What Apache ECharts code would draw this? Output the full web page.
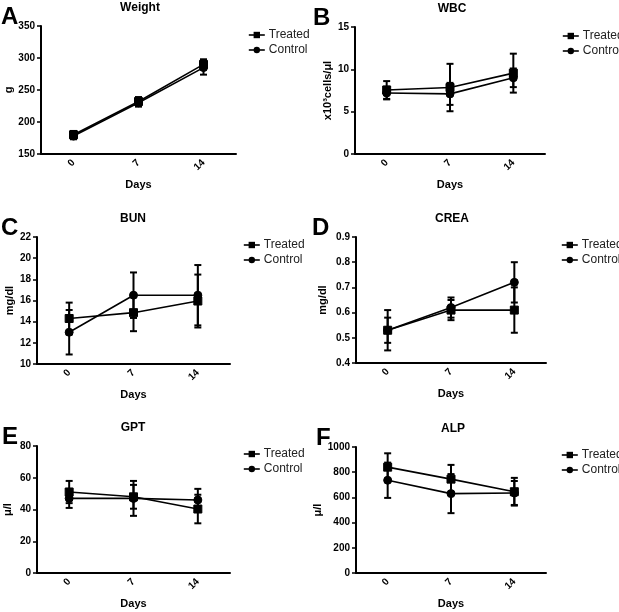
<!DOCTYPE html>
<html><head><meta charset="utf-8">
<script src="https://cdn.jsdelivr.net/npm/echarts@6/dist/echarts.min.js"></script>
<style>html,body{margin:0;padding:0;background:#fff}#c{width:619px;height:612px}</style>
</head><body><div id="c"></div>
<script>
const days = ['0', '7', '14'];

const weightTreated = [180, 232, 290];
const weightTreatedErr = [6, 7, 8];
const weightControl = [178, 230, 285];
const weightControlErr = [5, 6, 11];

const wbcTreated = [7.56, 7.85, 9.55];
const wbcTreatedErr = [1.05, 2.8, 2.3];
const wbcControl = [7.2, 7.1, 9.0];
const wbcControlErr = [0.75, 1.3, 1.1];

const bunTreated = [14.3, 14.85, 15.95];
const bunTreatedErr = [1.5, 1.75, 2.5];
const bunControl = [13.0, 16.5, 16.5];
const bunControlErr = [2.1, 2.15, 2.85];

const creaTreated = [0.53, 0.61, 0.61];
const creaTreatedErr = [0.08, 0.04, 0.09];
const creaControl = [0.53, 0.62, 0.72];
const creaControlErr = [0.05, 0.04, 0.08];

const gptTreated = [51, 48, 40.3];
const gptTreatedErr = [7, 7.5, 9];
const gptControl = [47, 47, 46];
const gptControlErr = [6, 11, 7];

const alpTreated = [840, 745, 645];
const alpTreatedErr = [110, 113, 110];
const alpControl = [736, 630, 635];
const alpControlErr = [140, 155, 95];

const panels = [
  {letter:'A', title:'Weight', yName:'g', min:150, max:350, interval:50,
   t:weightTreated, te:weightTreatedErr, c:weightControl, ce:weightControlErr,
   grid:{left:41, top:26, width:195, height:128}, yGap:26, titleX:140, letterX:1, legend:{left:248, top:29}},
  {letter:'B', title:'WBC', yName:'x10\u00B3cells/\u03BCl', min:0, max:15, interval:5,
   t:wbcTreated, te:wbcTreatedErr, c:wbcControl, ce:wbcControlErr,
   grid:{left:355, top:27, width:190, height:127}, yGap:22, titleX:452, letterX:313, legend:{left:562, top:30}},
  {letter:'C', title:'BUN', yName:'mg/dl', min:10, max:22, interval:2,
   t:bunTreated, te:bunTreatedErr, c:bunControl, ce:bunControlErr,
   grid:{left:37, top:237, width:193, height:127}, yGap:22, titleX:133, letterX:1, legend:{left:243, top:239}},
  {letter:'D', title:'CREA', yName:'mg/dl', min:0.4, max:0.9, interval:0.1,
   t:creaTreated, te:creaTreatedErr, c:creaControl, ce:creaControlErr,
   grid:{left:356, top:237, width:190, height:126}, yGap:28, titleX:452, letterX:312, legend:{left:561, top:239}},
  {letter:'E', title:'GPT', yName:'\u03BC/l', min:0, max:80, interval:20,
   t:gptTreated, te:gptTreatedErr, c:gptControl, ce:gptControlErr,
   grid:{left:37, top:446, width:193, height:127}, yGap:24, titleX:133, letterX:2, legend:{left:243, top:448}},
  {letter:'F', title:'ALP', yName:'\u03BC/l', min:0, max:1000, interval:200,
   t:alpTreated, te:alpTreatedErr, c:alpControl, ce:alpControlErr,
   grid:{left:356, top:447, width:190, height:126}, yGap:32, titleX:453, letterX:316, legend:{left:561, top:449}}
];

const FONT = '"Liberation Sans", Arial, sans-serif';
const BLACK = '#000';

function errData(m, e) { return m.map((v, i) => [i, v - e[i], v + e[i]]); }

function errRender(params, api) {
  const x = api.value(0);
  const lo = api.coord([x, api.value(1)]);
  const hi = api.coord([x, api.value(2)]);
  const hw = 3.5;
  const st = {stroke: BLACK, lineWidth: 2};
  return {type:'group', children:[
    {type:'line', shape:{x1:lo[0], y1:lo[1], x2:hi[0], y2:hi[1]}, style:st},
    {type:'line', shape:{x1:lo[0]-hw, y1:lo[1], x2:lo[0]+hw, y2:lo[1]}, style:st},
    {type:'line', shape:{x1:hi[0]-hw, y1:hi[1], x2:hi[0]+hw, y2:hi[1]}, style:st}
  ]};
}

const option = {
  animation:false,
  backgroundColor:'#fff',
  textStyle:{fontFamily:FONT},
  title:[], grid:[], xAxis:[], yAxis:[], series:[], legend:[], graphic:[]
};

panels.forEach((p, i) => {
  const g = p.grid;
  option.grid.push({left:g.left, top:g.top, width:g.width, height:g.height, containLabel:false});
  option.title.push({text:p.title, left:p.titleX, top:g.top - 24, textAlign:'center', padding:0,
    textStyle:{fontFamily:FONT, fontSize:12, fontWeight:'bold', color:BLACK}});
  option.graphic.push({type:'text', left:p.letterX, top:g.top - 21,
    style:{text:p.letter, font:'bold 24px ' + FONT, fill:BLACK}});
  option.xAxis.push({type:'category', gridIndex:i, data:days, boundaryGap:true,
    name:'Days', nameLocation:'middle', nameGap:25,
    nameTextStyle:{fontFamily:FONT, fontSize:11, fontWeight:'bold', color:BLACK},
    axisLine:{lineStyle:{color:BLACK, width:2}},
    axisTick:{alignWithLabel:true, length:4, lineStyle:{color:BLACK, width:1.5}},
    axisLabel:{rotate:45, fontFamily:FONT, fontSize:10, fontWeight:'bold', color:BLACK, margin:7},
    splitLine:{show:false}});
  option.yAxis.push({type:'value', gridIndex:i, min:p.min, max:p.max, interval:p.interval,
    name:p.yName, nameLocation:'middle', nameGap:p.yGap,
    nameTextStyle:{fontFamily:FONT, fontSize:11, fontWeight:'bold', color:BLACK},
    axisLine:{show:true, lineStyle:{color:BLACK, width:2}},
    axisTick:{show:true, length:4, lineStyle:{color:BLACK, width:1.5}},
    axisLabel:{fontFamily:FONT, fontSize:10, fontWeight:'bold', color:BLACK, margin:6,
      formatter:(v) => String(Math.round(v * 1000) / 1000)},
    splitLine:{show:false}});
  option.series.push({type:'custom', name:'errT'+i, xAxisIndex:i, yAxisIndex:i,
    data:errData(p.t, p.te), renderItem:errRender, z:3, silent:true});
  option.series.push({type:'custom', name:'errC'+i, xAxisIndex:i, yAxisIndex:i,
    data:errData(p.c, p.ce), renderItem:errRender, z:3, silent:true});
  option.series.push({type:'line', name:'Treated', xAxisIndex:i, yAxisIndex:i, data:p.t,
    symbol:'rect', symbolSize:8, showAllSymbol:true, z:4,
    lineStyle:{color:BLACK, width:1.6}, itemStyle:{color:BLACK, borderColor:BLACK}});
  option.series.push({type:'line', name:'Control', xAxisIndex:i, yAxisIndex:i, data:p.c,
    symbol:'circle', symbolSize:8, showAllSymbol:true, z:4,
    lineStyle:{color:BLACK, width:1.6}, itemStyle:{color:BLACK, borderColor:BLACK}});
  option.legend.push({data:['Treated','Control'], orient:'vertical', padding:0,
    left:p.legend.left, top:p.legend.top, itemWidth:16, itemHeight:8, itemGap:3,
    selectedMode:false,
    textStyle:{fontFamily:FONT, fontSize:12, color:'#222', padding:[0,0,0,-1]},
    itemStyle:{color:BLACK}, lineStyle:{color:BLACK, width:1.6}});
});

const chart = echarts.init(document.getElementById('c'), null, {renderer:'canvas'});
chart.setOption(option);
</script>
</body></html>
